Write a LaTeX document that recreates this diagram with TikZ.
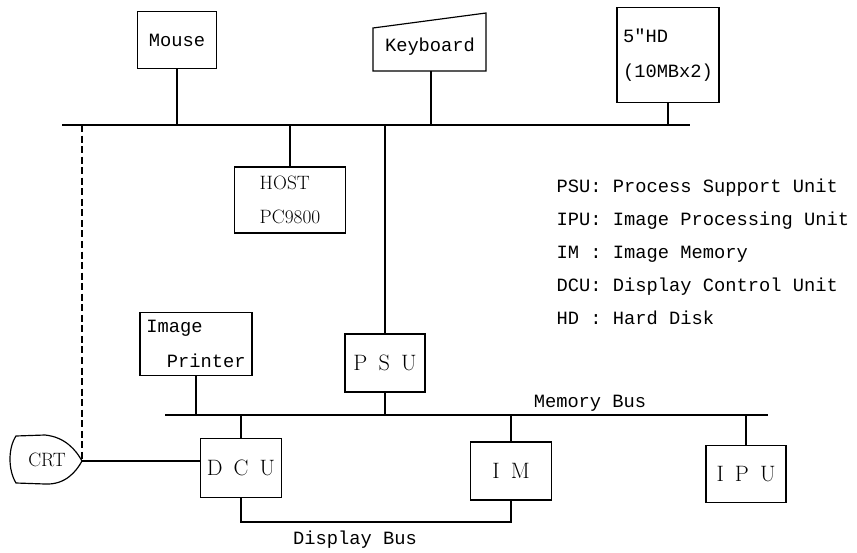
\documentclass[tikz,border=0pt]{standalone}
\usepackage{fontspec}
\newfontfamily\tw{Liberation Mono}
\newcommand{\gap}{\hspace{0.5em}}

\begin{document}
\begin{tikzpicture}[x=0.03cm, y=-0.03cm, line width=1pt,
        box/.style={draw, rectangle, inner sep=0pt},
        twtext/.style={font=\tw\fontsize{16}{30}\selectfont},
        unit/.style={font=\fontsize{19}{22}\selectfont},
        host/.style={font=\fontsize{16.5}{29}\selectfont},
        legend/.style={font=\tw\fontsize{16}{20}\selectfont, anchor=base west, inner sep=0pt}]
        \useasboundingbox (0,0) rectangle (857,553);

        % bus ends
        \coordinate (hbusL) at (62,125);
        \coordinate (hbusR) at (690,125);
        \coordinate (mbusL) at (165,415);
        \coordinate (mbusR) at (768,415);
        \coordinate (dbus) at (0,522);

        % devices on the upper bus
        \node[box, twtext, minimum width=2.37cm, minimum height=1.71cm] (mouse) at (177,40) {Mouse};
        \draw (373,28) -- (486,13) -- (486,71) -- (373,71) -- cycle;
        \node[twtext] (keyboard) at (430,47) {Keyboard};
        \coordinate (kbbot) at (431,71);
        \node[box, twtext, align=left, minimum width=3.06cm, minimum height=2.85cm] (hd) at (668,55) {5"HD\\(10MBx2)};
        \node[box, host, align=left, minimum width=3.33cm, minimum height=1.98cm] (host) at (290,200) {HOST\\PC9800};
        \node[box, unit, minimum width=2.4cm, minimum height=1.74cm] (psu) at (385,363) {P\gap S\gap U};

        % devices on the memory bus
        \node[box, twtext, align=left, minimum width=3.36cm, minimum height=1.89cm] (printer) at (196,344) {Image\\\hspace*{1.1em}Printer};
        \node[box, unit, minimum width=2.43cm, minimum height=1.77cm] (dcu) at (241,468) {D\gap C\gap U};
        \node[box, unit, minimum width=2.43cm, minimum height=1.74cm] (im) at (511,471) {I\gap M};
        \node[box, unit, minimum width=2.4cm, minimum height=1.71cm] (ipu) at (746,474) {I\gap P\gap U};

        % CRT
        \draw (16,436) -- (45,435) .. controls (65,437) and (76,450) .. (82,461)
              .. controls (76,472) and (65,485) .. (45,484) -- (16,483)
              .. controls (8,470) and (8,448) .. (16,436) -- cycle;
        \node[font=\fontsize{16.5}{18}\selectfont] (crt) at (47,460) {CRT};
        \coordinate (crttip) at (82,461);

        % buses
        \draw (hbusL) -- (hbusR);
        \draw (mbusL) -- (mbusR);
        \node[twtext] (membus) at (590,403) {Memory Bus};
        \node[twtext] (dispbus) at (355,540) {Display Bus};

        \draw (mouse.south) -- (mouse.south |- hbusL);
        \draw (kbbot) -- (kbbot |- hbusL);
        \draw (hd.south) -- (hd.south |- hbusL);
        \draw (host.north) -- (host.north |- hbusL);
        \draw (psu.north) -- (psu.north |- hbusL);
        \draw[dash pattern=on 6pt off 3pt] (crttip |- hbusL) -- (crttip);

        \draw (printer.south) -- (printer.south |- mbusL);
        \draw (psu.south) -- (psu.south |- mbusL);
        \draw (dcu.north) -- (dcu.north |- mbusL);
        \draw (im.north) -- (im.north |- mbusL);
        \draw (ipu.north) -- (ipu.north |- mbusL);

        \draw (crttip) -- (crttip -| dcu.west);
        \draw (dcu.south) -- (dcu.south |- dbus) -| (im.south);

        % legend
        \node[legend] (lpsu) at (556,192) {PSU: Process Support Unit};
        \node[legend] (lipu) at (556,225) {IPU: Image Processing Unit};
        \node[legend] (lim) at (556,258) {IM : Image Memory};
        \node[legend] (ldcu) at (556,291) {DCU: Display Control Unit};
        \node[legend] (lhd) at (556,324) {HD : Hard Disk};
\end{tikzpicture}
\end{document}
